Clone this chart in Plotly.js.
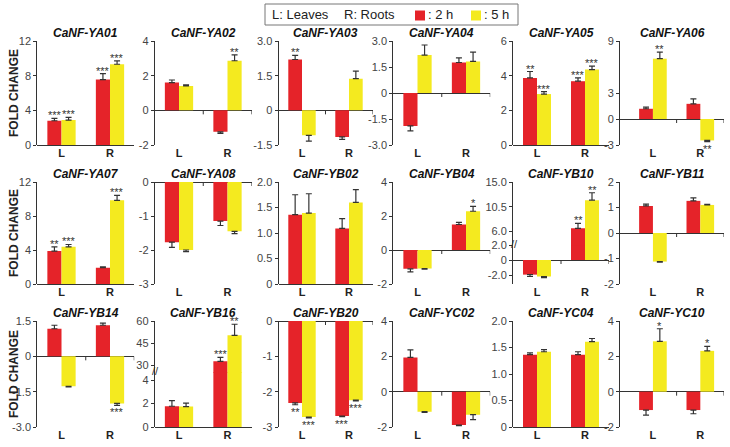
<!DOCTYPE html>
<html>
<head>
<meta charset="utf-8">
<script src="https://cdn.plot.ly/plotly-3.0.1.min.js"></script>
<style>html,body{margin:0;padding:0;background:#fff;}#chart{width:730px;height:447px;}</style>
</head>
<body>
<div id="chart"></div>
<script>
// ---------------- DATA ----------------
const genes = ['CaNF-YA01','CaNF-YA02','CaNF-YA03','CaNF-YA04','CaNF-YA05','CaNF-YA06',
               'CaNF-YA07','CaNF-YA08','CaNF-YB02','CaNF-YB04','CaNF-YB10','CaNF-YB11',
               'CaNF-YB14','CaNF-YB16','CaNF-YB20','CaNF-YC02','CaNF-YC04','CaNF-YC10'];
const tissues = ['L','R'];
const fc2h = [[2.8,7.55],[1.6,-1.24],[2.2,-1.15],[-1.9,1.76],[3.87,3.68],[1.18,1.75],
              [3.87,1.91],[-1.77,-1.15],[1.36,1.09],[-1.11,1.5],[-1.95,6.6],[1.06,1.26],
              [1.17,1.32],[1.77,32.9],[-2.32,-2.69],[1.94,-1.89],[1.365,1.365],[-1.04,-1.04]];
const se2h = [[0.27,0.69],[0.15,0.09],[0.18,0.11],[0.29,0.27],[0.37,0.19],[0.19,0.57],
              [0.5,0.12],[0.15,0.13],[0.39,0.19],[0.18,0.12],[0.25,0.9],[0.07,0.12],
              [0.15,0.09],[0.49,2.7],[0.05,0.02],[0.42,0.03],[0.035,0.055],[0.29,0.21]];
const fc5h = [[2.88,9.32],[1.41,2.86],[-1.08,1.37],[2.19,1.82],[2.94,4.35],[6.96,-2.47],
              [4.37,9.84],[-2.0,-1.45],[1.39,1.6],[-1.09,2.28],[-2.2,11.7],[-1.12,1.10],
              [-1.27,-2.0],[1.74,50.4],[-2.72,-2.24],[-1.13,-1.3],[1.42,1.61],[2.85,2.31]];
const se5h = [[0.3,0.38],[0.06,0.34],[0.25,0.33],[0.58,0.54],[0.14,0.2],[0.76,0.13],
              [0.28,0.59],[0.05,0.07],[0.38,0.25],[0.03,0.29],[0.15,1.35],[0.02,0.02],
              [0.03,0.08],[0.29,7.4],[0.02,0.02],[0.04,0.28],[0.04,0.06],[0.71,0.25]];
const sig2h = [['***','***'],['',''],['**',''],['',''],['**','***'],['',''],
               ['**',''],['',''],['',''],['',''],['','**'],['',''],
               ['',''],['','***'],['**','***'],['',''],['',''],['','']];
const sig5h = [['***','***'],['','**'],['',''],['',''],['***','***'],['**','**'],
               ['***','***'],['',''],['',''],['','*'],['','**'],['',''],
               ['','***'],['','**'],['***','***'],['',''],['',''],['*','*']];
const seriesNames = ['2 h','5 h'];
const seriesColors = ['#e52329','#f4ea1f'];

// y axis settings (ranges / ticks)
const yAxes = [
  {range:[0,12], tv:[0,4,8,12]},
  {range:[-2,4], tv:[-2,0,2,4]},
  {range:[-1.5,3], tv:[-1.5,0,1.5,3], tt:['-1.5','0','1.5','3.0']},
  {range:[-3,3], tv:[-3,-1.5,0,1.5,3], tt:['-3.0','-1.5','0','1.5','3.0']},
  {range:[0,6], tv:[0,2,4,6]},
  {range:[-3,9], tv:[-3,0,3,9]},
  {range:[0,12], tv:[0,4,8,12]},
  {range:[-3,0], tv:[-3,-2,-1,0]},
  {range:[0,2], tv:[0,0.5,1,1.5,2], tt:['0','0.5','1.0','1.5','2.0']},
  {range:[-2,4], tv:[-2,0,2,4]},
  {range:[-3.2,2.001], tv:[-2,0,2], tt:['-2.0','0','2.0']},
  {range:[-2,2], tv:[-2,-1,0,1,2]},
  {range:[-3,1.5], tv:[-3,-1.5,0,1.5], tt:['-3.0','-1.5','0','1.5']},
  {range:[0,4.67], tv:[0,2,4]},
  {range:[-3,0], tv:[-3,-2,-1,0]},
  {range:[-2,4], tv:[-2,0,2,4]},
  {range:[0,2], tv:[0,0.5,1,1.5,2], tt:['0','0.5','1.0','1.5','2.0']},
  {range:[-2,4], tv:[-2,0,2,4]}
];
// broken axes: upper segment
const broken = {
  10: {range:[3.46,15], tv:[6,10.5,15], tt:['6.0','10.5','15.0'], split:245},
  13: {range:[25.1,60], tv:[30,45,60], tt:['30','45','60'], split:372.3}
};

// ---------------- LAYOUT GEOMETRY (pixels) ----------------
const W = 730, H = 447;
const colX = [[37.25,134.25],[154.75,251.75],[278.5,372.5],[393.25,490.25],[513,609],[620,724]];
const colRange = [[-0.5,1.5],[-0.5,1.5],[-0.5,1.5],[-0.5,1.5],[-0.5,1.5],[-0.695,1.5]];
const rowY = [[41,145],[182,284],[321,427]];
const px = v => v / W;
const py = v => 1 - v / H;

const FONT = 'Liberation Sans, Arial, Helvetica, sans-serif';
const layout = {
  width: W, height: H, autosize: false,
  margin: {l:0, r:0, t:0, b:0},
  paper_bgcolor: '#fff', plot_bgcolor: 'rgba(0,0,0,0)',
  barmode: 'group', bargap: 0.417, bargroupgap: 0,
  showlegend: false,
  font: {family: FONT, color: '#333'},
  annotations: [], shapes: []
};
const data = [];
const sfx = n => (n === 1 ? '' : String(n));

function yAxisObj(domain, cfg, anchor, zl) {
  return {
    domain: domain, range: cfg.range, autorange: false,
    tickmode: 'array', tickvals: cfg.tv, ticktext: cfg.tt || cfg.tv.map(String),
    anchor: anchor, showline: true, linecolor: '#333', linewidth: 1,
    ticks: 'outside', ticklen: 3, tickcolor: '#333', tickwidth: 1,
    tickfont: {family: FONT, size: 11, color: '#444'},
    showgrid: false, zeroline: zl, zerolinecolor: '#333', zerolinewidth: 1,
    fixedrange: true
  };
}

let extraY = 19;
for (let i = 0; i < genes.length; i++) {
  const n = i + 1, r = Math.floor(i / 6), c = i % 6;
  const xr = 'x' + sfx(n), yr = 'y' + sfx(n);
  const bottom = rowY[r][1], top = rowY[r][0];
  const br = broken[i];
  const lowerTop = br ? br.split : top;
  layout['xaxis' + sfx(n)] = {
    domain: [px(colX[c][0]), px(colX[c][1])], range: colRange[c],
    type: 'category', categoryorder: 'array', categoryarray: tissues,
    anchor: yr, showline: false, ticks: '', showgrid: false, zeroline: false,
    tickfont: {family: FONT, size: 11, color: '#222', weight: 'bold'},
    fixedrange: true
  };
  layout['yaxis' + sfx(n)] = yAxisObj([py(bottom), py(lowerTop)], yAxes[i], xr, true);
  const yRefs = [yr];
  let upperRef = null;
  if (br) {
    const un = extraY++;
    upperRef = 'y' + un;
    layout['yaxis' + un] = yAxisObj([py(br.split + 0.6), py(top)], br, xr, false);
    yRefs.push(upperRef);
    layout.annotations.push({xref:'paper', yref:'paper', x: px(colX[c][0] + 1), y: py(br.split - 1),
      text: '//', showarrow: false, font: {family: FONT, size: 11, color: '#333'},
      xanchor: 'center', yanchor: 'middle'});
  }
  const vals = [fc2h[i], fc5h[i]], errs = [se2h[i], se5h[i]], sigs = [sig2h[i], sig5h[i]];
  for (const yref of yRefs) {
    for (let s = 0; s < 2; s++) {
      data.push({
        type: 'bar', x: tissues, y: vals[s], name: seriesNames[s],
        xaxis: xr, yaxis: yref, hoverinfo: 'skip',
        marker: {color: seriesColors[s], line: {width: 0}},
        error_y: {type: 'data', symmetric: false,
          array: vals[s].map((v, j) => v >= 0 ? errs[s][j] : 0),
          arrayminus: vals[s].map((v, j) => v < 0 ? errs[s][j] : 0),
          color: '#333', thickness: 1.2, width: 3}
      });
    }
  }
  // significance stars
  for (let s = 0; s < 2; s++) {
    for (let j = 0; j < 2; j++) {
      const t = sigs[s][j];
      if (!t) continue;
      const v = vals[s][j], e = errs[s][j];
      const yv = v >= 0 ? v + e : v - e;
      const ref = (br && yv > yAxes[i].range[1]) ? upperRef : yr;
      layout.annotations.push({
        xref: xr, yref: ref, x: tissues[j], y: yv, text: t, showarrow: false,
        xshift: s === 0 ? -7 : 7, yshift: v >= 0 ? -5 : 1,
        yanchor: v >= 0 ? 'bottom' : 'top', xanchor: 'center',
        font: {family: FONT, size: 11, color: '#333'}
      });
    }
  }
  // ticks on the zero line at category boundaries
  for (const xv of [0.5, 1.5]) {
    layout.shapes.push({type: 'line', xref: xr, yref: yr, x0: xv, x1: xv,
      ysizemode: 'pixel', yanchor: 0, y0: 0, y1: -4,
      line: {color: '#333', width: 1}});
  }
  // subplot title
  layout.annotations.push({
    xref: 'paper', yref: 'paper', x: px((colX[c][0] + colX[c][1]) / 2), y: py(top - 8),
    text: '<b><i>' + genes[i] + '</i></b>', showarrow: false,
    xanchor: 'center', yanchor: 'middle', font: {family: FONT, size: 12, color: '#111'}
  });
}

// y-axis titles
for (let r = 0; r < 3; r++) {
  layout.annotations.push({xref: 'paper', yref: 'paper', x: px(14), y: py((rowY[r][0] + rowY[r][1]) / 2),
    text: '<b>FOLD CHANGE</b>', textangle: -90, showarrow: false, xanchor: 'center', yanchor: 'middle',
    font: {family: FONT, size: 12, color: '#222'}});
}

// header key box
layout.shapes.push({type: 'rect', xref: 'paper', yref: 'paper', x0: px(265), x1: px(518), y0: py(25), y1: py(4),
  line: {color: '#777', width: 1}, fillcolor: 'rgba(0,0,0,0)'});
const keyText = [['L: Leaves', 270], ['R: Roots', 342], [': 2 h', 426], [': 5 h', 482]];
for (const [t, x] of keyText) {
  layout.annotations.push({xref: 'paper', yref: 'paper', x: px(x), y: py(15), text: t, showarrow: false,
    xanchor: 'left', yanchor: 'middle', font: {family: FONT, size: 13, color: '#222'}});
}
const keySquares = [[415, seriesColors[0]], [471, seriesColors[1]]];
for (const [x, col] of keySquares) {
  layout.shapes.push({type: 'rect', xref: 'paper', yref: 'paper', x0: px(x), x1: px(x + 10), y0: py(20.5), y1: py(10.5),
    line: {width: 0}, fillcolor: col});
}

Plotly.newPlot('chart', data, layout, {staticPlot: true, displayModeBar: false});
</script>
</body>
</html>
